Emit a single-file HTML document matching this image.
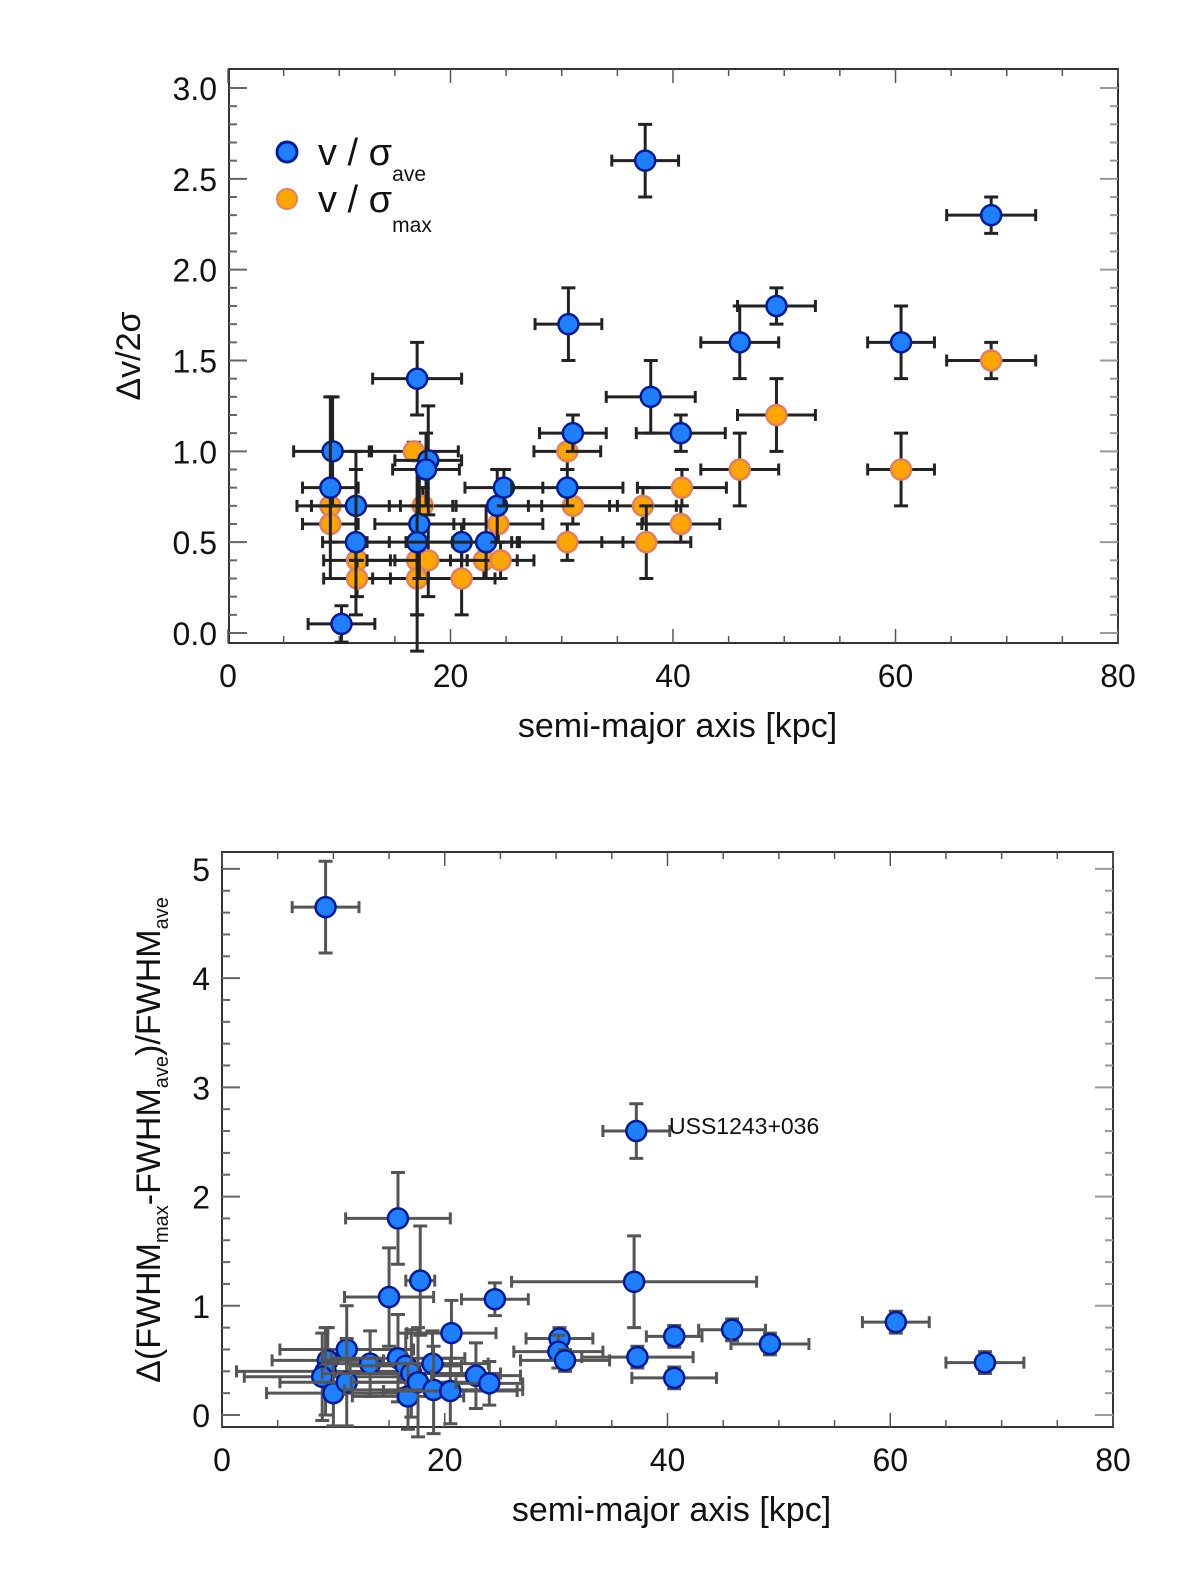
<!DOCTYPE html>
<html><head><meta charset="utf-8"><style>
html,body{margin:0;padding:0;background:#fff;width:1200px;height:1588px;overflow:hidden}
svg{display:block}
text{font-family:"Liberation Sans",sans-serif;fill:#111}
</style></head><body>
<svg id="c" width="1200" height="1588" viewBox="0 0 1200 1588"></svg>
<script>
// Top panel data
const topBlueX=[10.2,9.4,9.2,11.5,11.5,17,17.2,17,18,17.8,21,23.2,24.2,24.8,30.5,31,30.6,37.5,38,40.7,46,49.3,60.5,68.6];
const topBlueY=[0.05,1.0,0.8,0.7,0.5,1.4,0.6,0.5,0.95,0.9,0.5,0.5,0.7,0.8,0.8,1.1,1.7,2.6,1.3,1.1,1.6,1.8,1.6,2.3];
const topBlueXe=[3,3.5,2.5,4,3,4,4,4.5,3,3,5,3,4,3.5,5,3,3,3,4,4,3.5,3.5,3,4];
const topBlueYe=[0.1,0.3,0.5,0.3,0.4,0.2,0.3,0.4,0.3,0.2,0.1,0.2,0.2,0.1,0.1,0.1,0.2,0.2,0.2,0.1,0.2,0.1,0.2,0.1];
const topOrX=[9.2,9.2,11.6,11.6,16.7,17.5,17,17,18,21,23,24.5,24.3,30.5,31,30.5,37.3,37.6,40.8,40.7,46,49.3,60.5,68.6];
const topOrY=[0.7,0.6,0.4,0.3,1.0,0.7,0.4,0.3,0.4,0.3,0.4,0.4,0.6,1.0,0.7,0.5,0.7,0.5,0.8,0.6,0.9,1.2,0.9,1.5];
const topOrXe=[3,2.5,3,3,4,3,4.5,4,3,3,3,3,4,3,4,5,3,4,4,3.5,3.5,3.5,3,4];
const topOrYe=[0.1,0.1,0.1,0.1,0.05,0.1,0.3,0.4,0.2,0.2,0.1,0.1,0.1,0.1,0.1,0.1,0.1,0.2,0.1,0.1,0.2,0.2,0.2,0.1];
const xTicks=[0,20,40,60,80];
const topYTicks=["0.0","0.5","1.0","1.5","2.0","2.5","3.0"];
// Bottom panel data
const botX=[9.3,37.2,15.8,17.8,15,24.5,37,60.5,45.8,40.6,30.3,30.2,30.8,37.3,49.2,68.5,40.6,20.6,11.2,9.5,9.3,9,10,11.2,13.3,15.8,16.5,17,16.7,17.6,18.9,19,20.5,22.8,24];
const botY=[4.65,2.6,1.8,1.23,1.08,1.06,1.22,0.85,0.78,0.72,0.7,0.58,0.5,0.53,0.65,0.48,0.34,0.75,0.6,0.5,0.4,0.35,0.2,0.3,0.47,0.52,0.45,0.38,0.17,0.3,0.47,0.23,0.22,0.36,0.29];
const botXe=[3,3,4.7,1.3,4,3,11,3,3,2.5,3,4,4,5,3.5,3.5,3.8,4,6,5,8,7,6,6,4,6,5,8,5,6,5,8,6,4,3];
const botYe=[0.42,0.25,0.42,0.5,0.45,0.15,0.42,0.1,0.1,0.1,0.1,0.15,0.1,0.1,0.1,0.1,0.1,0.3,0.4,0.3,0.4,0.4,0.3,0.4,0.3,0.4,0.3,0.4,0.3,0.5,0.3,0.4,0.3,0.3,0.2];
const botYTicks=[0,1,2,3,4,5];

const svgEl=document.getElementById('c');
const NS='http://www.w3.org/2000/svg';
function mk(tag,at,parent){const e=document.createElementNS(NS,tag);for(const k in at)e.setAttribute(k,at[k]);(parent||svgEl).appendChild(e);return e;}

function panel(P){
  const g=mk('g',{});
  
  
  const sx=v=>P.x0+(v-0)*(P.x1-P.x0)/80;
  const sy=v=>P.y0-(v-P.ymin)*(P.y0-P.ytop)/(P.ymax-P.ymin);
  const fr=mk('rect',{x:P.bx,y:P.by,width:P.bw,height:P.bh,fill:'none',stroke:'#333','stroke-width':2},g);
  
  
  for(let v=0;v<=80;v+=5){const X=sx(v);const L=v%20==0?14:7;
    mk('line',{x1:X,y1:P.by+P.bh,x2:X,y2:P.by+P.bh-L,stroke:'#555','stroke-width':1.5},g);
    mk('line',{x1:X,y1:P.by,x2:X,y2:P.by+L,stroke:'#555','stroke-width':1.5},g);}
  xTicks.forEach(v=>{const t=mk('text',{x:sx(v),y:P.by+P.bh+44,'font-size':32,'text-anchor':'middle'},g);t.textContent=v;
    
    });
  const minor=P.minor;
  for(let v=P.ymin;v<=P.ymax+1e-9;v+=minor){const Y=sy(v);const maj=Math.abs(v/P.major-Math.round(v/P.major))<1e-6;const L=maj?18:8;
    mk('line',{x1:P.bx,y1:Y,x2:P.bx+L,y2:Y,stroke:'#666','stroke-width':2},g);
    mk('line',{x1:P.bx+P.bw,y1:Y,x2:P.bx+P.bw-L,y2:Y,stroke:'#999','stroke-width':2},g);}
  P.yt.forEach(s=>{const v=parseFloat(s);const t=mk('text',{x:P.bx-12,y:sy(v)+12,'font-size':32,'text-anchor':'end'},g);t.textContent=s;
    
    });
  const xl=mk('text',{x:(P.bx+P.bw/2+4),y:P.by+P.bh+94,'font-size':34,'text-anchor':'middle'},g);
  xl.textContent='semi-major axis [kpc]';
  
  
  return {g,sx,sy};
}
function points(ax,X,Y,XE,YE,fill,stroke,name,ecol){
  for(let i=0;i<X.length;i++){
    const cx=ax.sx(X[i]),cy=ax.sy(Y[i]);
    const x1=ax.sx(X[i]-XE[i]),x2=ax.sx(X[i]+XE[i]),y1=ax.sy(Y[i]-YE[i]),y2=ax.sy(Y[i]+YE[i]);
    const e=mk('path',{d:`M${x1},${cy}H${x2}M${cx},${y1}V${y2}M${x1},${cy-6}V${cy+6}M${x2},${cy-6}V${cy+6}M${cx-7},${y1}H${cx+7}M${cx-7},${y2}H${cx+7}`,stroke:ecol,'stroke-width':3,fill:'none'},ax.g);
    
    
    const c=mk('circle',{cx:cx,cy:cy,r:10,fill:fill,stroke:stroke,'stroke-width':2.5},ax.g);
    
    
  }
}
const topAx=panel({name:'top-panel',bx:229,by:69,bw:889,bh:574,x0:228,x1:1118,y0:633,ytop:88,ymin:0,ymax:3,minor:0.1,major:0.5,yt:topYTicks});
points(topAx,topOrX,topOrY,topOrXe,topOrYe,'#ffa500','#e08060','orange-v-sigma-max','#222');
points(topAx,topBlueX,topBlueY,topBlueXe,topBlueYe,'#1e7fff','#001a99','blue-v-sigma-ave','#222');
const yl1=mk('text',{x:0,y:0,'font-size':34,'text-anchor':'middle',transform:'translate(140,356) rotate(-90)'});
yl1.textContent='Δv/2σ';


const lg=mk('g',{});


mk('circle',{cx:287,cy:152,r:10,fill:'#1e7fff',stroke:'#001a99','stroke-width':3},lg);
mk('circle',{cx:287,cy:199,r:10,fill:'#ffa500',stroke:'#e08060','stroke-width':2},lg);
const l1=mk('text',{x:318,y:165,'font-size':38},lg);l1.innerHTML='v / σ<tspan font-size="21" dy="16">ave</tspan>';


const l2=mk('text',{x:318,y:212,'font-size':38},lg);l2.innerHTML='v / σ<tspan font-size="21" dy="20">max</tspan>';



const botAx=panel({name:'bottom-panel',bx:222,by:852,bw:891,bh:575,x0:222,x1:1113,y0:1415,ytop:858,ymin:0,ymax:5.1,minor:0.2,major:1,yt:botYTicks.map(String)});
points(botAx,botX,botY,botXe,botYe,'#1e7fff','#001a99','fwhm','#555');
const yl2=mk('text',{x:0,y:0,'font-size':34,'text-anchor':'middle',transform:'translate(160,1140) rotate(-90)'});
yl2.innerHTML='Δ(FWHM<tspan font-size="20" dy="8">max</tspan><tspan dy="-8">-FWHM</tspan><tspan font-size="20" dy="8">ave</tspan><tspan dy="-8">)/FWHM</tspan><tspan font-size="20" dy="8">ave</tspan>';


const ann=mk('text',{x:669,y:1134,'font-size':23});
ann.textContent='USS1243+036';


</script>
</body></html>
